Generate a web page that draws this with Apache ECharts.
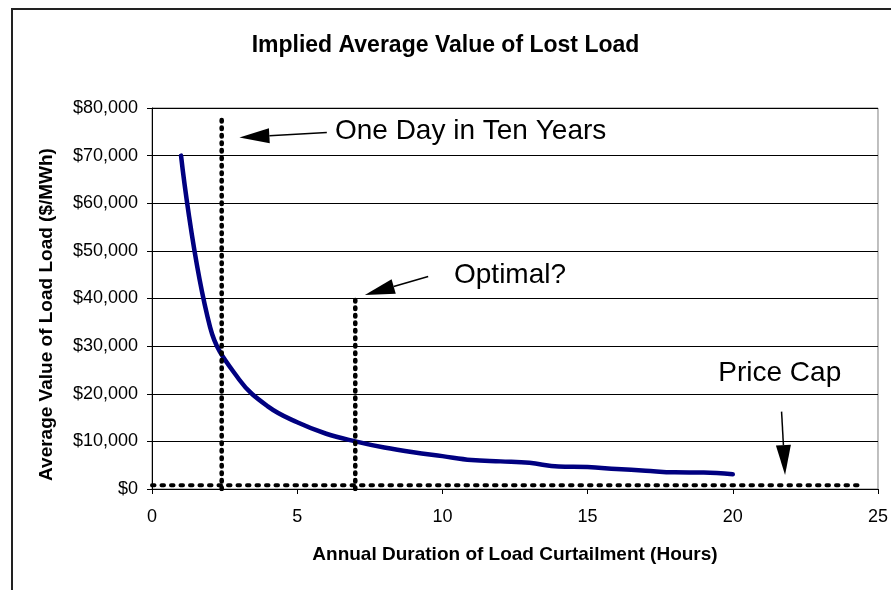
<!DOCTYPE html>
<html>
<head>
<meta charset="utf-8">
<script src="https://cdn.jsdelivr.net/npm/echarts@6/dist/echarts.min.js"></script>
<style>
html,body{margin:0;padding:0;background:#fff;}
#chart{width:891px;height:590px;}
</style>
</head>
<body>
<div id="chart"></div>
<script>
// hours of curtailment per year and the implied average value of lost load
var hours = [1, 2, 3, 4, 5, 6, 7, 8, 9, 10, 11, 12, 13, 14, 15, 16, 17, 18, 19, 20];
var vollValues = [70000, 34000, 23000, 17300, 14000, 11600, 10000, 8700, 7700, 6900,
                  6100, 5800, 5500, 4700, 4600, 4200, 3850, 3500, 3450, 3100];

// reference lines (x, y pairs in data units)
var oneDayLine = [[2.4, 0], [2.4, 78000]];
var optimalLine = [[7, 0], [7, 40000]];
var priceCapLine = [[0, 800], [24.4, 800]];

// annotations: text, where the text starts, arrow tail and arrow tip
var noteTexts = ['One Day in Ten Years', 'Optimal?', 'Price Cap'];
var noteAt = [[6.3, 75200], [10.4, 44900], [19.5, 24200]];
var arrowFrom = [[6.02, 74850], [9.51, 44600], [21.68, 16240]];
var arrowTo = [[3.01, 73800], [7.33, 40760], [21.8, 2940]];

var FONT = '"Liberation Sans", Arial, sans-serif';

var chart = echarts.init(document.getElementById('chart'));

function money(v) {
    return '$' + String(v).replace(/\B(?=(\d{3})+(?!\d))/g, ',');
}

var dotV = { color: '#000', width: 4.6, type: [1.4, 6.1], cap: 'round' };
var dotH = { color: '#000', width: 4, type: [2.5, 7], cap: 'round' };

var option = {
    backgroundColor: '#fff',
    animation: false,
    title: {
        text: 'Implied Average Value of Lost Load',
        left: 'center',
        top: 29,
        textStyle: { fontFamily: FONT, fontSize: 23, fontWeight: 'bold', color: '#000' }
    },
    grid: {
        left: 152, right: 13, top: 108, bottom: 101,
        show: true, borderColor: '#808080', borderWidth: 1
    },
    xAxis: {
        type: 'value', min: 0, max: 25, interval: 5,
        name: 'Annual Duration of Load Curtailment (Hours)',
        nameLocation: 'middle', nameGap: 56,
        nameTextStyle: { fontFamily: FONT, fontSize: 19, fontWeight: 'bold', color: '#000' },
        axisLine: { lineStyle: { color: '#000', width: 1 } },
        axisTick: { length: 5, lineStyle: { color: '#000' } },
        axisLabel: { fontFamily: FONT, fontSize: 18, color: '#000', margin: 19 },
        splitLine: { show: false }
    },
    yAxis: {
        type: 'value', min: 0, max: 80000, interval: 10000,
        name: 'Average Value of Load Load ($/MWh)',
        nameLocation: 'middle', nameGap: 96,
        nameTextStyle: { fontFamily: FONT, fontSize: 19, fontWeight: 'bold', color: '#000', padding: [0, 32, 0, 0] },
        axisLine: { show: true, lineStyle: { color: '#000', width: 1 } },
        axisTick: { show: true, length: 5, lineStyle: { color: '#000' } },
        axisLabel: { fontFamily: FONT, fontSize: 18, color: '#000', margin: 14, formatter: money },
        splitLine: { lineStyle: { color: '#000', width: 1 } }
    },
    series: [
        {
            type: 'line', name: 'VOLL',
            data: hours.map(function (h, i) { return [h, vollValues[i]]; }),
            showSymbol: false, smooth: 0.4,
            lineStyle: { color: '#000080', width: 4.5, join: 'round', cap: 'round' }, z: 3
        },
        { type: 'line', data: oneDayLine, showSymbol: false, lineStyle: dotV, z: 4 },
        { type: 'line', data: optimalLine, showSymbol: false, lineStyle: dotV, z: 4 },
        { type: 'line', data: priceCapLine, showSymbol: false, lineStyle: dotH, z: 4 }
    ],
    graphic: []
};

chart.setOption(option);

// arrows and notes are placed from data coordinates after the grid is laid out
function arrowShapes(from, to, headLen, headW) {
    var p0 = chart.convertToPixel({ gridIndex: 0 }, from);
    var p1 = chart.convertToPixel({ gridIndex: 0 }, to);
    var dx = p1[0] - p0[0], dy = p1[1] - p0[1];
    var len = Math.sqrt(dx * dx + dy * dy);
    var ux = dx / len, uy = dy / len;
    var bx = p1[0] - ux * headLen, by = p1[1] - uy * headLen;
    return [
        { type: 'line', shape: { x1: p0[0], y1: p0[1], x2: bx, y2: by },
          style: { stroke: '#000', lineWidth: 1.5 }, z: 10 },
        { type: 'polygon', shape: { points: [
            [p1[0], p1[1]],
            [bx - uy * headW / 2, by + ux * headW / 2],
            [bx + uy * headW / 2, by - ux * headW / 2]
          ] }, style: { fill: '#000' }, z: 10 }
    ];
}

var els = [
    { type: 'rect', shape: { x: 12, y: 9, width: 900, height: 600 },
      style: { fill: 'none', stroke: '#222', lineWidth: 2 }, z: 0 }
];
for (var i = 0; i < noteTexts.length; i++) {
    var pt = chart.convertToPixel({ gridIndex: 0 }, noteAt[i]);
    els.push({
        type: 'text', x: pt[0], y: pt[1], z: 10,
        style: { text: noteTexts[i], font: '28px ' + FONT, fill: '#000',
                 align: 'left', verticalAlign: 'middle' }
    });
    els = els.concat(arrowShapes(arrowFrom[i], arrowTo[i], 30, 15));
}
chart.setOption({ graphic: els });
</script>
</body>
</html>
